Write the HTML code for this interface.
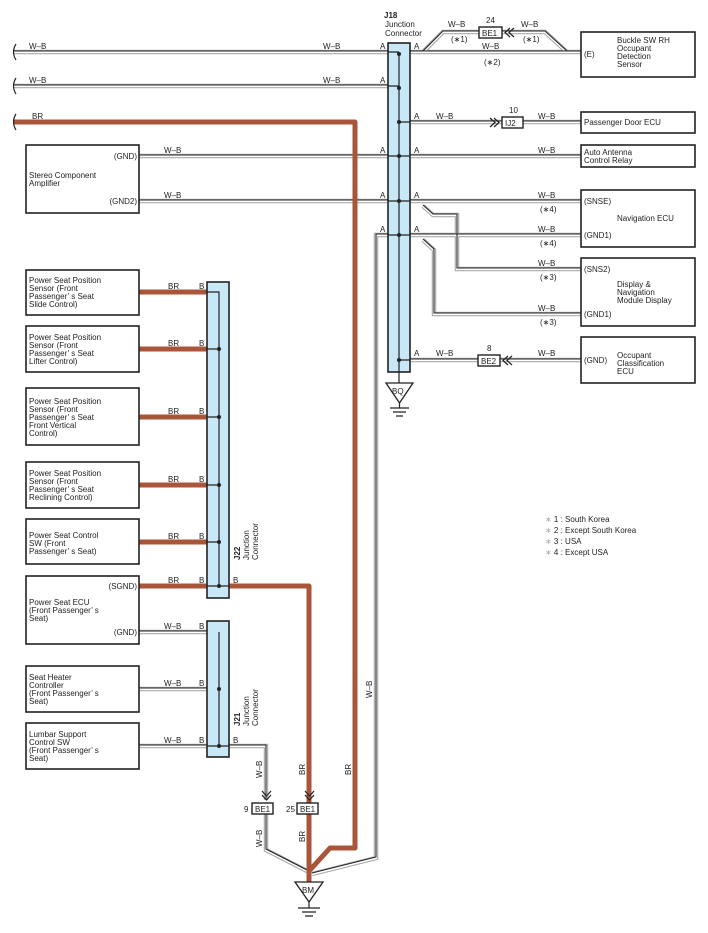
<!DOCTYPE html>
<html><head><meta charset="utf-8"><style>
html,body{margin:0;padding:0;background:#fff;}
svg{display:block;font-family:"Liberation Sans",sans-serif;}
text{font-size:8px;fill:#222;}
.box{fill:#fff;stroke:#222;stroke-width:1.6;}
.jc{fill:#c8e8f8;stroke:#222;stroke-width:1.6;}
.wg{fill:none;stroke:#aaa;stroke-width:4.5;}
.ww{fill:none;stroke:#fff;stroke-width:2.2;}
.wb{fill:none;stroke:#222;stroke-width:1.1;}
.br{fill:none;stroke:#a8553a;stroke-width:5;stroke-linejoin:round;}
.ln{fill:none;stroke:#222;stroke-width:1.2;}
</style></head><body>
<svg width="708" height="933" viewBox="0 0 708 933" xmlns="http://www.w3.org/2000/svg">
<defs>
<path id="p1" fill="none" d="M14 52 H581"/>
<path id="p2" fill="none" d="M14 86 H388"/>
<path id="p3" fill="none" d="M139 156 H581"/>
<path id="p4" fill="none" d="M139 201 H581"/>
<path id="p5" fill="none" d="M410 122 H502 M523 122 H581"/>
<path id="p6" fill="none" d="M410 360 H478 M500 360 H581"/>
<path id="p7" fill="none" d="M410 235 H581"/>
<path id="p8" fill="none" d="M423 52 L443 32 H479 M502 32 H545 L567 52"/>
<path id="p9" fill="none" d="M423 206 L433 215 H457 V269 H581"/>
<path id="p10" fill="none" d="M423 240 L434 250 V314 H581"/>
<path id="p11" fill="none" d="M388 235 H376 V858 L312 874"/>
<path id="p12" fill="none" d="M139 632 H219 M139 689 H219 M139 746 H219"/>
<path id="p13" fill="none" d="M229 746 H266 V800 M266 813 V850 L309 872"/>
</defs>
<g class="wg"><use href="#p1"/><use href="#p2"/><use href="#p3"/><use href="#p4"/><use href="#p5"/><use href="#p6"/><use href="#p7"/><use href="#p8"/><use href="#p9"/><use href="#p10"/><use href="#p11"/><use href="#p12"/><use href="#p13"/></g>
<g class="ww"><use href="#p1"/><use href="#p2"/><use href="#p3"/><use href="#p4"/><use href="#p5"/><use href="#p6"/><use href="#p7"/><use href="#p8"/><use href="#p9"/><use href="#p10"/><use href="#p11"/><use href="#p12"/><use href="#p13"/></g>
<g class="wb" transform="translate(0,-1)"><use href="#p1"/><use href="#p2"/><use href="#p3"/><use href="#p4"/><use href="#p5"/><use href="#p6"/><use href="#p7"/><use href="#p8"/><use href="#p9"/><use href="#p10"/><use href="#p11"/><use href="#p12"/><use href="#p13"/></g>

<!-- BR wires -->
<path class="br" d="M14 122 H355 V848 H330 L310 870"/>
<path class="br" d="M139 292 H207 M139 349 H207 M139 417 H207 M139 485 H207 M139 542 H207 M139 586 H207"/>
<path class="br" d="M229 586 H309 V882"/>

<!-- break marks -->
<g class="ln" stroke-width="1.3">
<path d="M16 44 Q11 52 16 60"/><path d="M16 78 Q11 86 16 94"/><path d="M16 114 Q11 122 16 130"/>
</g>

<!-- J18 -->
<rect class="jc" x="388" y="43" width="22" height="329"/>
<line class="ln" x1="399" y1="54" x2="399" y2="383"/>
<g fill="#222"><circle cx="399" cy="54" r="2"/><circle cx="399" cy="88" r="2"/><circle cx="399" cy="122" r="2"/><circle cx="399" cy="156" r="2"/><circle cx="399" cy="201" r="2"/><circle cx="399" cy="235" r="2"/><circle cx="399" cy="360" r="2"/></g>
<g class="ln" stroke-width="0.8"><path d="M388 52 H399 M388 86 H399 M399 122 H410 M388 156 H410 M388 201 H410 M388 235 H410 M399 360 H410"/></g>
<text x="384" y="18" font-weight="bold">J18</text>
<text x="385" y="27">Junction</text>
<text x="385" y="36">Connector</text>

<!-- BQ ground -->
<path d="M386 383 H413 L399.5 403 Z" fill="#fff" stroke="#222" stroke-width="1.3"/>
<text x="392" y="394">BQ</text>
<path class="ln" d="M399.5 403 V408 M390 408 H409 M393 412 H406 M396 416 H403"/>

<!-- J22 -->
<rect class="jc" x="207" y="282" width="22" height="316"/>
<path class="ln" d="M207 292 H219 V586 M207 349 H219 M207 417 H219 M207 485 H219 M207 542 H219 M207 586 H229"/>
<g fill="#222"><circle cx="219" cy="349" r="2"/><circle cx="219" cy="417" r="2"/><circle cx="219" cy="485" r="2"/><circle cx="219" cy="542" r="2"/><circle cx="219" cy="586" r="2"/></g>
<g transform="translate(240,560) rotate(-90)"><text x="0" y="0" font-weight="bold">J22</text><text x="0" y="9">Junction</text><text x="0" y="18">Connector</text></g>

<!-- J21 -->
<rect class="jc" x="207" y="621" width="22" height="136"/>
<path class="ln" d="M219 632 V746 M207 746 H229"/>
<g fill="#222"><circle cx="219" cy="689" r="2"/><circle cx="219" cy="746" r="2"/></g>
<g transform="translate(240,726) rotate(-90)"><text x="0" y="0" font-weight="bold">J21</text><text x="0" y="9">Junction</text><text x="0" y="18">Connector</text></g>

<!-- BM ground -->
<path d="M295 882 H323 L309 902 Z" fill="#fff" stroke="#222" stroke-width="1.3"/>
<text x="302" y="893">BM</text>
<path class="ln" d="M309 902 V908 M298 908 H320 M302 912 H316 M305 916 H313"/>

<!-- connectors -->
<g>
<rect x="479" y="27" width="23" height="11" fill="#fff" stroke="#222" stroke-width="1.4"/><text x="482" y="36">BE1</text><text x="486" y="23">24</text>
<path class="ln" stroke-width="1.4" d="M510 28 L505 32.5 L510 37 M514 28 L509 32.5 L514 37"/>
<rect x="502" y="117" width="21" height="11" fill="#fff" stroke="#222" stroke-width="1.4"/><text x="505" y="126">IJ2</text><text x="509" y="113">10</text>
<path class="ln" stroke-width="1.4" d="M490 118 L495 122.5 L490 127 M494 118 L499 122.5 L494 127"/>
<rect x="478" y="355" width="22" height="11" fill="#fff" stroke="#222" stroke-width="1.4"/><text x="481" y="364">BE2</text><text x="487" y="351">8</text>
<path class="ln" stroke-width="1.4" d="M508 356 L503 360.5 L508 365 M512 356 L507 360.5 L512 365"/>
<rect x="252" y="803" width="21" height="11" fill="#fff" stroke="#222" stroke-width="1.4"/><text x="255" y="812">BE1</text><text x="244" y="812">9</text>
<path class="ln" stroke-width="1.4" d="M262 791 L266.5 796 L271 791 M262 795 L266.5 800 L271 795"/>
<rect x="297" y="803" width="21" height="11" fill="#fff" stroke="#222" stroke-width="1.4"/><text x="300" y="812">BE1</text><text x="286" y="812">25</text>
<path class="ln" stroke-width="1.4" d="M305 791 L309.5 796 L314 791 M305 795 L309.5 800 L314 795"/>
</g>

<!-- boxes left -->
<rect class="box" x="26" y="145" width="113" height="68"/>
<text x="29" y="178">Stereo Component</text><text x="29" y="186">Amplifier</text>
<text x="137" y="159" text-anchor="end">(GND)</text><text x="137" y="204" text-anchor="end">(GND2)</text>

<rect class="box" x="26" y="270" width="113" height="45"/>
<text x="29" y="283">Power Seat Position</text><text x="29" y="291">Sensor (Front</text><text x="29" y="299">Passenger’ s Seat</text><text x="29" y="307">Slide Control)</text>
<rect class="box" x="26" y="326" width="113" height="46"/>
<text x="29" y="340">Power Seat Position</text><text x="29" y="348">Sensor (Front</text><text x="29" y="356">Passenger’ s Seat</text><text x="29" y="364">Lifter Control)</text>
<rect class="box" x="26" y="388" width="113" height="57"/>
<text x="29" y="404">Power Seat Position</text><text x="29" y="412">Sensor (Front</text><text x="29" y="420">Passenger’ s Seat</text><text x="29" y="428">Front Vertical</text><text x="29" y="436">Control)</text>
<rect class="box" x="26" y="462" width="113" height="46"/>
<text x="29" y="476">Power Seat Position</text><text x="29" y="484">Sensor (Front</text><text x="29" y="492">Passenger’ s Seat</text><text x="29" y="500">Reclining Control)</text>
<rect class="box" x="26" y="519" width="113" height="45"/>
<text x="29" y="538">Power Seat Control</text><text x="29" y="546">SW (Front</text><text x="29" y="554">Passenger’ s Seat)</text>
<rect class="box" x="26" y="576" width="113" height="68"/>
<text x="137" y="589" text-anchor="end">(SGND)</text>
<text x="29" y="605">Power Seat ECU</text><text x="29" y="613">(Front Passenger’ s</text><text x="29" y="621"> Seat)</text>
<text x="137" y="635" text-anchor="end">(GND)</text>
<rect class="box" x="26" y="666" width="113" height="46"/>
<text x="29" y="680">Seat Heater</text><text x="29" y="688">Controller</text><text x="29" y="696">(Front Passenger’ s</text><text x="29" y="704"> Seat)</text>
<rect class="box" x="26" y="723" width="113" height="46"/>
<text x="29" y="737">Lumbar Support</text><text x="29" y="745">Control SW</text><text x="29" y="753">(Front Passenger’ s</text><text x="29" y="761"> Seat)</text>

<!-- boxes right -->
<rect class="box" x="581" y="32" width="114" height="45"/>
<text x="584" y="57">(E)</text>
<text x="617" y="43">Buckle SW RH</text><text x="617" y="51">Occupant</text><text x="617" y="59">Detection</text><text x="617" y="67">Sensor</text>
<rect class="box" x="581" y="112" width="114" height="21"/>
<text x="584" y="125">Passenger Door ECU</text>
<rect class="box" x="581" y="145" width="114" height="22"/>
<text x="584" y="155">Auto Antenna</text><text x="584" y="163">Control Relay</text>
<rect class="box" x="581" y="190" width="114" height="57"/>
<text x="584" y="204">(SNSE)</text><text x="617" y="221">Navigation ECU</text><text x="584" y="238">(GND1)</text>
<rect class="box" x="581" y="258" width="114" height="68"/>
<text x="584" y="272">(SNS2)</text><text x="617" y="287">Display &amp;</text><text x="617" y="295">Navigation</text><text x="617" y="303">Module Display</text><text x="584" y="317">(GND1)</text>
<rect class="box" x="581" y="337" width="114" height="46"/>
<text x="584" y="363">(GND)</text><text x="617" y="358">Occupant</text><text x="617" y="366">Classification</text><text x="617" y="374">ECU</text>

<!-- wire labels -->
<g>
<text x="29" y="49">W–B</text><text x="323" y="49">W–B</text><text x="380" y="49">A</text><text x="414" y="49">A</text>
<text x="29" y="83">W–B</text><text x="323" y="83">W–B</text><text x="380" y="83">A</text>
<text x="32" y="119">BR</text>
<text x="164" y="153">W–B</text><text x="380" y="153">A</text><text x="414" y="153">A</text><text x="538" y="153">W–B</text>
<text x="164" y="198">W–B</text><text x="380" y="198">A</text><text x="414" y="198">A</text><text x="538" y="198">W–B</text>
<text x="414" y="119">A</text><text x="436" y="119">W–B</text><text x="538" y="119">W–B</text>
<text x="448" y="27">W–B</text><text x="521" y="27">W–B</text><text x="451" y="42">(∗1)</text><text x="523" y="42">(∗1)</text>
<text x="482" y="49">W–B</text><text x="484" y="65">(∗2)</text>
<text x="540" y="212">(∗4)</text>
<text x="380" y="232">A</text><text x="414" y="232">A</text><text x="538" y="232">W–B</text><text x="540" y="246">(∗4)</text>
<text x="538" y="266">W–B</text><text x="540" y="280">(∗3)</text>
<text x="538" y="311">W–B</text><text x="540" y="325">(∗3)</text>
<text x="414" y="356">A</text><text x="436" y="356">W–B</text><text x="538" y="356">W–B</text>
<text x="168" y="289">BR</text><text x="199" y="289">B</text>
<text x="168" y="346">BR</text><text x="199" y="346">B</text>
<text x="168" y="414">BR</text><text x="199" y="414">B</text>
<text x="168" y="482">BR</text><text x="199" y="482">B</text>
<text x="168" y="539">BR</text><text x="199" y="539">B</text>
<text x="168" y="583">BR</text><text x="199" y="583">B</text><text x="233" y="583">B</text>
<text x="164" y="629">W–B</text><text x="199" y="629">B</text>
<text x="164" y="686">W–B</text><text x="199" y="686">B</text>
<text x="164" y="743">W–B</text><text x="199" y="743">B</text><text x="233" y="743">B</text>
<text transform="translate(262,778) rotate(-90)">W–B</text>
<text transform="translate(262,847) rotate(-90)">W–B</text>
<text transform="translate(305,775) rotate(-90)">BR</text>
<text transform="translate(305,842) rotate(-90)">BR</text>
<text transform="translate(351,775) rotate(-90)">BR</text>
<text transform="translate(372,698) rotate(-90)">W–B</text>
</g>

<!-- legend -->
<g fill="#444"><text x="545" y="522"><tspan fill="#aaa">∗</tspan> 1 : South Korea</text>
<text x="545" y="533"><tspan fill="#aaa">∗</tspan> 2 : Except South Korea</text>
<text x="545" y="544"><tspan fill="#aaa">∗</tspan> 3 : USA</text>
<text x="545" y="555"><tspan fill="#aaa">∗</tspan> 4 : Except USA</text></g>
</svg>
</body></html>
